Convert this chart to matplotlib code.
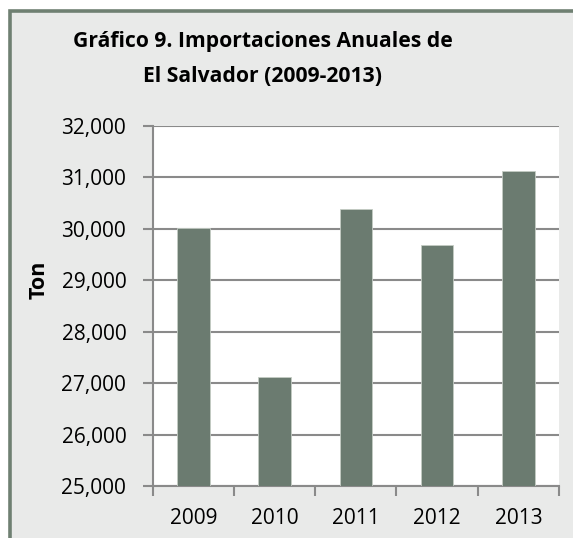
import matplotlib.pyplot as plt
from matplotlib.patches import Rectangle
from matplotlib.ticker import FuncFormatter

years = ['2009', '2010', '2011', '2012', '2013']
tons = [30010, 27110, 30380, 29680, 31120]

fig = plt.figure(figsize=(5.73, 5.38), dpi=100)
fig.patch.set_facecolor('white')

# grey panel with dark border, cut off at right and bottom like the original
panel = Rectangle((9.5 / 573, -0.05), 1.1, 1 - 10.5 / 538 + 0.05, transform=fig.transFigure,
                  facecolor='#e9eae9', edgecolor='#6f8072', linewidth=2.6, zorder=-1)
fig.patches.append(panel)

ax = fig.add_axes([152.7 / 573, 1 - 486 / 538, (559 - 152.7) / 573, (486 - 125.7) / 538])
ax.set_facecolor('white')
ax.bar(range(len(years)), tons, width=0.4, color='#6b7b70', edgecolor='#c4ccc4',
       linewidth=0.6, zorder=3)

ax.set_xlim(-0.5, len(years) - 0.5)
ax.set_ylim(25000, 32000)
ax.set_yticks(range(25000, 32001, 1000))
ax.yaxis.set_major_formatter(FuncFormatter(lambda v, p: '{:,.0f}'.format(v)))
ax.set_xticks(range(len(years)))
ax.set_xticklabels(years)
ax.set_xticks([i - 0.5 for i in range(len(years) + 1)], minor=True)

ax.grid(axis='y', color='#8a8a8a', linewidth=1.5, zorder=1)
for s in ['top', 'right']:
    ax.spines[s].set_visible(False)
for s in ['left', 'bottom']:
    ax.spines[s].set_color('#8a8a8a')
    ax.spines[s].set_linewidth(1.5)

ax.tick_params(axis='y', which='major', length=7, width=1.5, color='#8a8a8a',
               labelsize=15, pad=12, labelcolor='black')
ax.tick_params(axis='x', which='major', length=0, labelsize=15, pad=16)
ax.tick_params(axis='x', which='minor', length=7, width=1.5, color='#8a8a8a')

# y label sits above the axis middle in the original
fig.text(39 / 573, 1 - 280 / 538, 'Ton', rotation=90, ha='center', va='center',
         fontsize=15.5, fontweight='bold')

fig.text(0.458, 1 - 42 / 538, 'Gráfico 9. Importaciones Anuales de', ha='center', va='center',
         fontsize=15.2, fontweight='bold')
fig.text(0.458, 1 - 77 / 538, 'El Salvador (2009-2013)', ha='center', va='center',
         fontsize=15.2, fontweight='bold')

for t in ax.get_xticklabels() + ax.get_yticklabels():
    t.set_family('Open Sans')
for t in fig.texts:
    t.set_family('Open Sans')

fig.savefig('out.png', dpi=100)
